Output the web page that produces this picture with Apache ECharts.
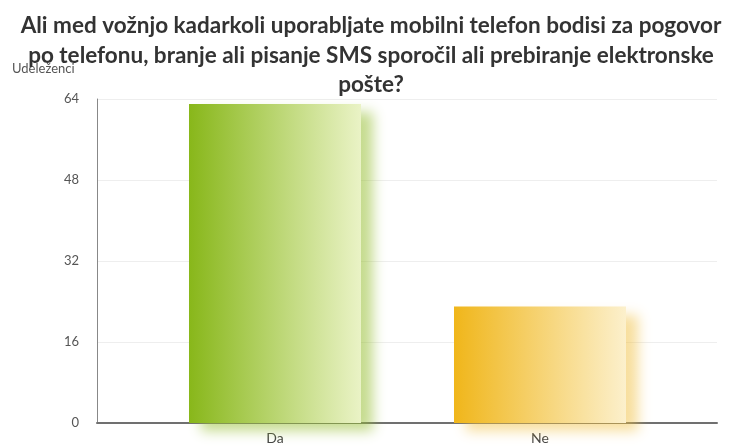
<!DOCTYPE html>
<html>
<head>
<meta charset="utf-8">
<script src="https://cdn.jsdelivr.net/npm/echarts@6/dist/echarts.min.js"></script>
<style>
html,body{margin:0;padding:0;background:#fff;}
#c{width:742px;height:448px;}
</style>
</head>
<body>
<div id="c"></div>
<script>
const titleText = 'Ali med vožnjo kadarkoli uporabljate mobilni telefon bodisi za pogovor\npo telefonu, branje ali pisanje SMS sporočil ali prebiranje elektronske\npošte?';
const yAxisName = 'Udeleženci';
const categories = ['Da', 'Ne'];
const values = [63, 23];
const yTicks = [0, 16, 32, 48, 64];

const gradients = [
  ['#88B71A', '#EAF3C6', 'rgba(150,190,50,0.55)'],
  ['#F0B61A', '#FCF0CC', 'rgba(240,190,60,0.5)']
];

const chart = echarts.init(document.getElementById('c'));
chart.setOption({
  animation: false,
  backgroundColor: '#fff',
  title: {
    text: titleText,
    left: 'center',
    top: 6,
    textStyle: {fontFamily: 'Lato', fontWeight: 'bold', fontSize: 22.5, color: '#333', lineHeight: 29.5}
  },
  graphic: [{
    type: 'text', left: 12, top: 62,
    style: {text: yAxisName, fontFamily: 'Lato', fontSize: 13, fill: '#555'}
  }],
  grid: [
    {left: 97, right: 25, top: 99, bottom: 25},
    {left: 142.5, right: 69.5, top: 99, bottom: 25}
  ],
  xAxis: [
    {type: 'category', gridIndex: 0, data: [''], axisLine: {lineStyle: {color: '#707070', width: 2}}, axisTick: {show: false}, axisLabel: {show: false}},
    {type: 'category', gridIndex: 1, data: categories, axisLine: {show: false}, axisTick: {show: false},
     axisLabel: {fontFamily: 'Lato', fontSize: 14, color: '#444', margin: 8}}
  ],
  yAxis: [
    {type: 'value', gridIndex: 0, min: yTicks[0], max: yTicks[yTicks.length-1], interval: 16,
     axisLine: {show: true, lineStyle: {color: '#888', width: 1}}, axisTick: {show: false},
     axisLabel: {fontFamily: 'Lato', fontSize: 13, color: '#555', margin: 18},
     splitLine: {lineStyle: {color: '#eeeeee', width: 1}}},
    {type: 'value', gridIndex: 1, min: yTicks[0], max: yTicks[yTicks.length-1], interval: 16, show: false}
  ],
  series: [{
    type: 'bar', xAxisIndex: 1, yAxisIndex: 1, barWidth: 172,
    data: values.map((v, i) => ({
      value: v,
      itemStyle: {
        color: new echarts.graphic.LinearGradient(0, 0, 1, 0, [
          {offset: 0, color: gradients[i][0]},
          {offset: 1, color: gradients[i][1]}
        ]),
        shadowColor: gradients[i][2], shadowBlur: 12, shadowOffsetX: 12, shadowOffsetY: 8
      }
    }))
  }]
});
</script>
</body>
</html>
